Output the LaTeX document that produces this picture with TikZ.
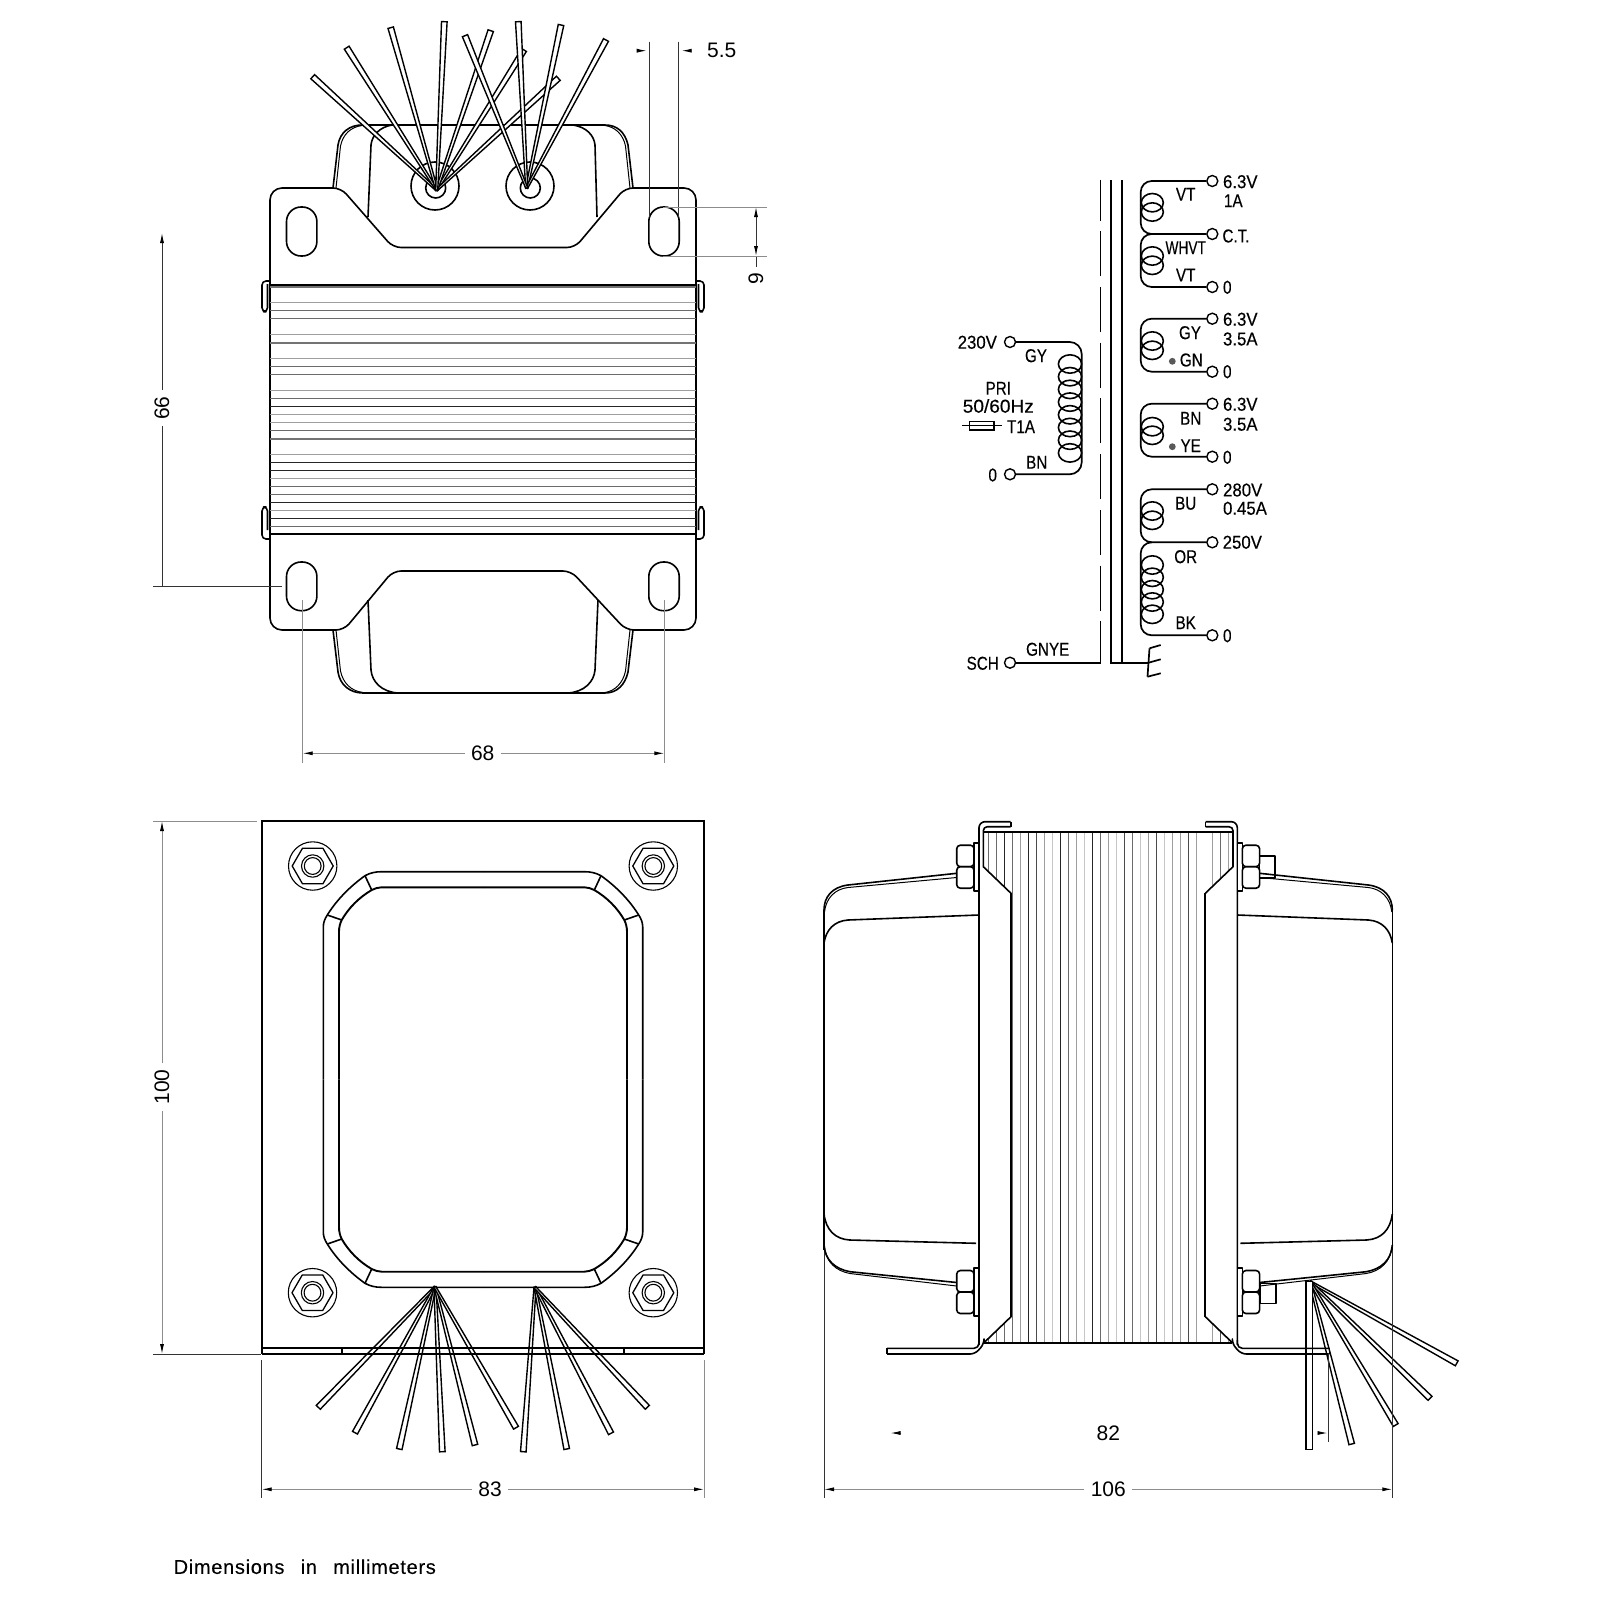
\documentclass[tikz,border=0pt]{standalone}
\usepackage{fontspec}
\setmainfont{Liberation Sans}
\newfontfamily\schfont[FakeStretch=0.82,FakeBold=0.25]{Liberation Sans}
\newfontfamily\notefont[LetterSpace=3.5,WordSpace=2.6,FakeBold=0.2]{Liberation Sans}
\usetikzlibrary{calc,arrows.meta}
\tikzset{
  tipa/.tip={Latex[length=5pt,width=2pt,fill=black,color=black]},
  partl/.style={black,line width=0.8pt,line join=round},
  heavy/.style={black,line width=1.1pt},
  fine/.style={black,line width=0.5pt},
  wirel/.style={draw=black,fill=white,line width=0.7pt,line join=miter},
  dimln/.style={black!45,line width=0.45pt},
  dimdk/.style={black!80,line width=0.45pt},
  dimtxt/.style={font=\fontsize{10.5}{12}\selectfont,inner sep=3pt},
  lbl/.style={font=\schfont\fontsize{9.3}{10}\selectfont,inner sep=0pt},
  numl/.style={lbl,xscale=1.1},
  term/.style={circle,draw=black,fill=white,line width=0.7pt,inner sep=0pt,minimum size=5.5pt},
  schl/.style={black,line width=0.85pt},
  coil/.style={black,line width=0.8pt},
  core/.style={black,line width=1pt},
  coredash/.style={black,line width=0.6pt,dash pattern=on 22.5pt off 5.35pt,dash phase=2.2pt},
  lamv/.style={black!22,line width=0.4pt},
  laml/.style={black!38,line width=0.45pt},
  lamm/.style={black!58,line width=0.5pt},
  lamd/.style={black!85,line width=0.5pt},
  lamD/.style={black!70,line width=0.75pt},
  lamG/.style={black!55,line width=1pt},
}
\newcommand\wirex[2]{\filldraw[wirel] ($(#1)!0.5pt!90:(#2)$) -- ($(#2)!1.4pt!-90:(#1)$) -- ($(#2)!1.4pt!90:(#1)$) -- ($(#1)!0.5pt!-90:(#2)$) -- cycle;}
\newcommand\tslot[3]{\draw[partl,rounded corners=7.3pt] (#1-15.2,#2) rectangle (#1+15.2,#3);}
\newcommand\nutset[1]{%
  \begin{scope}[shift={(0,#1)}]
    \filldraw[partl,fill=white] (974,-24) rectangle (979,24);
    \filldraw[partl,fill=white,rounded corners=1.8pt] (956.7,-21.5) rectangle (974,0);
    \filldraw[partl,fill=white,rounded corners=1.8pt] (956.7,0) rectangle (974,21.5);
  \end{scope}}
\newcommand\sidehalf{%
  \draw[partl] (956.7,873.3) -- (848,885) .. controls (832,887) and (824,897) .. (824,910);
  \draw[fine] (956.7,877.5) -- (848,887.5) .. controls (835,889) and (826,898) .. (824.5,912);
  \draw[partl] (979,915) -- (848,920) .. controls (834,921) and (826,930) .. (824,943);
  \draw[partl] (824,910) -- (824,1250);
  \draw[dimdk] (824,1250) -- (824,1498);
  \draw[partl] (956.7,1282.5) -- (850,1271.7) .. controls (835,1269) and (825,1260) .. (824,1245);
  \draw[fine] (956.7,1286) -- (850,1273.5) .. controls (836,1271) and (826,1262) .. (824.5,1247);
  \draw[partl] (976,1243.3) -- (849.6,1240) .. controls (835,1239) and (826,1230) .. (824,1214);
  \draw[partl] (887,1348.3) -- (887,1354);
  \draw[partl,rounded corners=2.5pt] (979,1340) -- (979,1348.3) -- (887,1348.3);
  \draw[partl,rounded corners=2.5pt] (887,1354) -- (975,1354) -- (984,1344) -- (984,1342.7);
  \draw[partl,rounded corners=3pt] (979,1345) -- (979,821.7) -- (1010.7,821.7);
  \draw[partl] (1010.7,821.7) -- (1010.7,826.7);
  \draw[partl,rounded corners=2pt] (1010.7,826.7) -- (983.3,826.7) -- (983.3,840);
  \draw[partl] (983.3,840) -- (983.3,866.7) -- (1011,893.3);
  \draw[heavy] (1011,893.3) -- (1011,1316.7);
  \draw[partl] (1011,1316.7) -- (984,1342.7);
  \nutset{866.7}
  \nutset{1292}
}
\begin{document}
\begin{tikzpicture}[x=0.5pt,y=-0.5pt]
\useasboundingbox (0,0) rectangle (1600,1600);
\fill[white] (0,0) rectangle (1600,1600);

% ===== TOP VIEW =====
% bell, top
\draw[partl] (333,188) -- (338,145) .. controls (340,132) and (350,125) .. (362,125) -- (605,125) .. controls (617,125) and (625,132) .. (628,145) -- (633,188);
\draw[fine] (336,188) -- (340.5,146) .. controls (343,134) and (351,127) .. (362,125.5);
\draw[fine] (630,188) -- (625.5,146) .. controls (623,134) and (615,127) .. (605,125.5);
\draw[partl] (368,217) -- (371,145) .. controls (372,135) and (380,127) .. (392,125);
\draw[partl] (597,217) -- (595,145) .. controls (594,135) and (586,127) .. (573,125);
% bell, bottom
\draw[partl] (333,630) -- (338,672) .. controls (340,685) and (350,693) .. (363,693) -- (605,693) .. controls (617,693) and (625,685) .. (628,672) -- (633,630);
\draw[fine] (336,630) -- (340.5,671) .. controls (343,683) and (351,691) .. (363,692.5);
\draw[fine] (630,630) -- (625.5,671) .. controls (623,683) and (615,691) .. (605,692.5);
\draw[partl] (368,600) -- (371,670) .. controls (372,682) and (382,692) .. (398,693);
\draw[partl] (598,600) -- (595,670) .. controls (594,682) and (584,692) .. (568,693);
% plate
\draw[partl] (270,285) [rounded corners=6pt] -- (270,188) [rounded corners=4pt] -- (341,188) -- (393,247.5) -- (575,247.5) -- (625,188) [rounded corners=6pt] -- (696,188) [sharp corners] -- (696,285);
\draw[partl] (270,534) [rounded corners=6pt] -- (270,630) [rounded corners=4pt] -- (344,630) -- (393,571) -- (571,571) -- (626,630) [rounded corners=6pt] -- (696,630) [sharp corners] -- (696,534);
\draw[partl] (270,285) -- (270,534);
\draw[partl] (696,285) -- (696,534);
\tslot{301.7}{207}{256}
\tslot{664}{207}{256}
\tslot{301.7}{562}{610.7}
\tslot{664}{562}{610.7}
% side clips
\draw[partl,rounded corners=2pt] (270,281) -- (262,281) -- (262,311.7) -- (267.5,311.7) -- (267.5,284);
\draw[partl,rounded corners=2pt] (267.5,530) -- (267.5,507) -- (262,507) -- (262,539) -- (270,539);
\draw[partl,rounded corners=2pt] (696,281) -- (704,281) -- (704,311.7) -- (698.5,311.7) -- (698.5,284);
\draw[partl,rounded corners=2pt] (698.5,530) -- (698.5,507) -- (704,507) -- (704,539) -- (696,539);
% laminations, horizontal
\foreach \y/\s in {302/laml,310/lamm,318.3/lamm,334/laml,342.7/lamG,358.3/laml,366.3/lamm,374.3/lamm,390.3/laml,398.3/lamm,406.3/lamd,414.3/laml,422.3/laml,430.3/lamm,438.7/lamG,454.3/laml,462.3/lamd,470.3/lamd,478.3/laml,486.3/lamm,494.3/lamm,502.3/lamd,510.3/laml,518.3/lamd,526.3/lamm}
  \draw[\s] (270,\y) -- (696,\y);
\draw[lamG,line width=1.3pt] (270,287) -- (696,287);
\draw[heavy,line width=0.7pt] (270,285) -- (696,285);
\draw[heavy,line width=0.7pt] (270,534) -- (696,534);
% holes
\draw[partl] (435,186) circle[radius=12pt];
\draw[partl] (530,186) circle[radius=12pt];
\draw[partl] (435.7,188) circle[radius=5pt];
\draw[partl] (530.3,188) circle[radius=5pt];
% wires, top
\wirex{436.7,190}{524,50}
\wirex{436.7,190}{558.3,78.3}
\wirex{436.7,190}{312.7,76.7}
\wirex{436.7,190}{346.7,47.7}
\wirex{436.7,190}{390.7,27.7}
\wirex{436.7,190}{490.7,30.7}
\wirex{436.7,190}{444.3,21.7}
\wirex{526.7,188}{561,25}
\wirex{526.7,188}{606,40}
\wirex{526.7,188}{518.3,21.7}
\wirex{526.7,188}{465,35.7}
% dimension 5.5
\coordinate (a55) at (646.7,50.7);
\coordinate (b55) at (681.7,50.7);
\coordinate (a55s) at (639,50.7);
\node[dimtxt] (d55) at (721.7,50.5) {5.5};
\coordinate (b55s) at (689.3,50.7);
\draw[dimdk,-tipa] (a55s) -- (a55);
\draw[dimdk,-tipa] (b55s) -- (b55);
\draw[dimdk] (649.3,41.7) -- (649.3,217);
\draw[dimdk] (678.3,41.7) -- (678.3,217);
% dimension 9
\node[dimtxt,rotate=90] (d9) at (756,279) {9};
\coordinate (a9) at (756,207);
\coordinate (b9) at (756,256);
\draw[dimdk,{tipa}-{tipa}] (a9) -- (b9);
\draw[dimdk] (b9) -- (d9);
\draw[dimln] (663,207) -- (767,207);
\draw[dimln] (663,256) -- (767,256);
% dimension 66
\node[dimtxt,rotate=90] (d66) at (162,408) {66};
\coordinate (a66) at (162,233);
\coordinate (b66) at (162,586);
\draw[dimdk,-tipa] (d66) -- (a66);
\draw[dimdk] (d66) -- (b66);
\draw[dimdk] (153,586) -- (282,586);
% dimension 68
\node[dimtxt] (d68) at (482.7,753.3) {68};
\coordinate (a68) at (302.7,753.3);
\coordinate (b68) at (664.3,753.3);
\draw[dimln,-tipa] (d68) -- (a68);
\draw[dimln,-tipa] (d68) -- (b68);
\draw[dimln] (302.7,600) -- (302.7,762.7);
\draw[dimln] (664.3,600) -- (664.3,762.7);

% ===== SCHEMATIC =====
\draw[coredash] (1100.7,180) -- (1100.7,662.7);
\coordinate (g1) at (1148,662.7);
\draw[core] (1111.3,180) -- (1111.3,662.7) -- (g1);
\draw[core] (1122,180) -- (1122,662.7);
\draw[schl] (1149.5,648.3) -- (1147.5,676.7);
\draw[schl] (1149.5,648.3) -- (1160.7,645);
\draw[schl] (1148.5,662.7) -- (1160.7,659.3);
\draw[schl] (1147.5,676.7) -- (1160.7,673.3);

\node[term] (t1) at (1212.3,181) {};
\node[term] (t2) at (1212.3,234) {};
\node[term] (t3) at (1212.3,287) {};
\node[term] (t4) at (1212.3,318.7) {};
\node[term] (t5) at (1212.3,371.7) {};
\node[term] (t6) at (1212.3,403.7) {};
\node[term] (t7) at (1212.3,456.7) {};
\node[term] (t8) at (1212.3,489.3) {};
\node[term] (t9) at (1212.3,542.3) {};
\node[term] (t10) at (1212.3,635.3) {};
\node[term] (p1) at (1010,342) {};
\node[term] (p2) at (1010,474.3) {};
\node[term] (sch) at (1010,662.7) {};
\coordinate (jt) at (1140.7,234);
\coordinate (jb) at (1140.7,542.3);
\draw[schl,rounded corners=5.5pt] (t1) -- (1140.7,181) -- (jt) -- (t2);
\draw[schl,rounded corners=5.5pt] (1150,234) -- (jt) -- (1140.7,287) -- (t3);
\draw[schl,rounded corners=5.5pt] (t4) -- (1140.7,318.7) -- (1140.7,371.7) -- (t5);
\draw[schl,rounded corners=5.5pt] (t6) -- (1140.7,403.7) -- (1140.7,456.7) -- (t7);
\draw[schl,rounded corners=5.5pt] (t8) -- (1140.7,489.3) -- (jb) -- (t9);
\draw[schl,rounded corners=5.5pt] (1150,542.3) -- (jb) -- (1140.7,635.3) -- (t10);
\draw[schl,rounded corners=6pt] (p1) -- (1081.7,342) -- (1081.7,474.3) -- (p2);
\draw[schl] (sch) -- (1100.7,662.7);
\foreach \y in {202.7,212,256,265.3,341,350.3,426.7,435.3,511,520.3,565,577.3,589.7,602,614.3}
  \draw[coil] (1152.3,\y) ellipse[x radius=5.5pt,y radius=4.6pt];
\foreach \y in {364,376.7,389.4,402.1,414.8,427.5,440.2,452.9}
  \draw[coil] (1070,\y) ellipse[x radius=5.8pt,y radius=4.6pt];
\fill[black!65] (1172.3,361.3) circle[radius=1.7pt];
\fill[black!65] (1172.3,446.7) circle[radius=1.7pt];
% fuse
\coordinate (f1) at (962.3,425.7);
\coordinate (f2) at (1001.7,425.7);
\draw[schl,line width=0.6pt] (f1) -- (f2);
\draw[schl,line width=0.6pt] (969.3,421.7) rectangle (994,430);
% labels
\node[numl] (l1) at (977.3,342.3) {230V};
\node[lbl] (l2) at (1036,355.7) {GY};
\node[lbl] (l3) at (998.3,388.3) {PRI};
\node[lbl,xscale=1.25] (l4) at (998.3,406) {50/60Hz};
\node[lbl] (l5) at (1021,426.7) {T1A};
\node[lbl] (l6) at (1036.7,462.3) {BN};
\node[lbl] (l7) at (992.7,475) {0};
\node[lbl] (l8) at (1185.7,194.3) {VT};
\node[numl] (l9) at (1240.3,181.7) {6.3V};
\node[lbl] (l10) at (1233.3,200.7) {1A};
\node[lbl] (l11) at (1236,236) {C.T.};
\node[lbl,xscale=0.9] (l12) at (1185.7,247.7) {WHVT};
\node[lbl] (l13) at (1185.7,275) {VT};
\node[lbl] (l14) at (1227.3,287.3) {0};
\node[numl] (l15) at (1240.3,319.3) {6.3V};
\node[numl] (l16) at (1240.3,339) {3.5A};
\node[lbl] (l17) at (1190,332.7) {GY};
\node[lbl] (l18) at (1191.3,360) {GN};
\node[lbl] (l19) at (1227.3,371.7) {0};
\node[numl] (l20) at (1240.3,404.3) {6.3V};
\node[numl] (l21) at (1240.3,424.3) {3.5A};
\node[lbl] (l22) at (1190.7,418.3) {BN};
\node[lbl] (l23) at (1190.7,445.7) {YE};
\node[lbl] (l24) at (1227.3,457.3) {0};
\node[numl] (l25) at (1242.7,490) {280V};
\node[numl] (l26) at (1245,508.3) {0.45A};
\node[lbl] (l27) at (1185.7,503.3) {BU};
\node[numl] (l28) at (1242.3,542.3) {250V};
\node[lbl] (l29) at (1185.7,556.7) {OR};
\node[lbl] (l30) at (1185.7,622.7) {BK};
\node[lbl] (l31) at (1227.3,635.7) {0};
\node[lbl] (l32) at (1047.7,649.3) {GNYE};
\node[lbl] (l33) at (982.7,663.3) {SCH};

% ===== BOTTOM-LEFT VIEW =====
\draw[heavy] (261.7,1348.3) -- (261.7,821) -- (704,821) -- (704,1348.3);
% window frame
\foreach \sx/\sy in {1/1,-1/1,1/-1,-1/-1}{
  \begin{scope}[shift={(483,1079.5)},xscale=\sx,yscale=\sy]
    \draw[partl] (-159.7,0) -- (-159.7,-152.8) .. controls (-159.7,-157) and (-158,-161) .. (-155.7,-164.5) .. controls (-146,-180) and (-133,-193) .. (-118,-203.8) .. controls (-113,-206.5) and (-108,-207.8) .. (-101.3,-207.8) -- (0,-207.8);
    \draw[partl,line width=0.95pt] (-144,0) -- (-144,-147.8) .. controls (-144,-152) and (-143,-156) .. (-141.3,-159.5) .. controls (-134,-172) and (-124,-182) .. (-111.3,-189.5) .. controls (-108,-191) and (-105,-192.2) .. (-101.3,-192.2) -- (0,-192.2);
    \draw[partl] (-155.7,-164.5) -- (-141.3,-159.5);
    \draw[partl] (-118,-203.8) -- (-111.3,-189.5);
  \end{scope}}
% bolts
\foreach \cx/\cy in {312.7/866,653.3/866,312.5/1292.7,653.3/1292.7}{
  \begin{scope}[shift={(\cx,\cy)}]
    \draw[partl,line width=0.55pt] (0,0) circle[radius=12.1pt];
    \draw[partl,line width=0.65pt] (-20.5,0) -- (-10.2,-17.8) -- (10.2,-17.8) -- (20.5,0) -- (10.2,17.8) -- (-10.2,17.8) -- cycle;
    \draw[partl,line width=0.55pt] (0,0) circle[radius=5.6pt];
    \draw[partl,line width=0.55pt] (0,0) circle[radius=4.2pt];
  \end{scope}}
% wires
\wirex{435,1287}{318.3,1407.3}
\wirex{435,1287}{355,1432.7}
\wirex{435,1287}{399.3,1449}
\wirex{435,1287}{442.3,1451.7}
\wirex{435,1287}{475,1445}
\wirex{435,1287}{516,1427.7}
\wirex{535,1287.3}{523.3,1451.7}
\wirex{535,1287.3}{566.7,1449}
\wirex{535,1287.3}{611,1433.3}
\wirex{535,1287.3}{647.3,1407.3}
% strip
\draw[heavy,line width=0.85pt] (261.7,1348.3) -- (704,1348.3);
\draw[heavy,line width=0.85pt] (261.7,1354) -- (704,1354);
\draw[partl] (261.7,1348.3) -- (261.7,1354);
\draw[partl] (704,1348.3) -- (704,1354);
\draw[partl] (341.7,1348.3) -- (341.7,1354);
\draw[partl] (624,1348.3) -- (624,1354);
% dimension 83
\node[dimtxt] (d83) at (490,1489.3) {83};
\coordinate (a83) at (261.7,1489.3);
\coordinate (b83) at (704,1489.3);
\draw[dimln,-tipa] (d83) -- (a83);
\draw[dimln,-tipa] (d83) -- (b83);
\draw[dimdk] (261.7,1360) -- (261.7,1498);
\draw[dimln] (704,1360) -- (704,1498);
% dimension 100
\node[dimtxt,rotate=90] (d100) at (162,1087) {100};
\coordinate (a100) at (162,821);
\coordinate (b100) at (162,1354);
\draw[dimln,-tipa] (d100) -- (a100);
\draw[dimln,-tipa] (d100) -- (b100);
\draw[dimln] (153,821) -- (257,821);
\draw[dimdk] (153,1354) -- (261,1354);

% ===== RIGHT VIEW =====
\foreach \x/\s in {1012.3/lamm,1020.3/laml,1028.3/lamd,1036.3/lamD,1044.3/laml,1052.3/lamv,1060.3/lamd,1068.3/lamm,1076.3/laml,1084.3/lamv,1092.3/lamd,1100.3/lamm,1108.3/laml,1116.3/lamv,1124.3/lamD,1132.3/lamm,1140.3/lamv,1148.3/laml,1156.3/lamD,1164.3/lamv,1172.3/laml,1180.3/laml,1188.3/lamD,1196.3/laml}
  \draw[\s] (\x,831.7) -- (\x,1342.7);
\draw[lamm] (988.3,831.7) -- (988.3,871.4);
\draw[lamm] (996.3,831.7) -- (996.3,878.9);
\draw[lamd] (1004.3,831.7) -- (1004.3,886.4);
\draw[laml] (1212.3,831.7) -- (1212.3,886.4);
\draw[lamm] (1220.3,831.7) -- (1220.3,878.9);
\draw[laml] (1228.3,831.7) -- (1228.3,871.4);
\draw[lamm] (988.3,1338.6) -- (988.3,1342.7);
\draw[lamm] (996.3,1330.9) -- (996.3,1342.7);
\draw[lamm] (1004.3,1323.2) -- (1004.3,1342.7);
\draw[laml] (1212.3,1323.2) -- (1212.3,1342.7);
\draw[lamD] (1220.3,1330.9) -- (1220.3,1342.7);
\draw[laml] (1228.3,1338.6) -- (1228.3,1342.7);
\draw[heavy] (983.3,831.7) -- (1233,831.7);
\draw[heavy] (984,1342.7) -- (1232.3,1342.7);
% wires, right view
\wirex{1310,1281.7}{1456.7,1363.3}
\wirex{1310,1281.7}{1430,1398.3}
\wirex{1310,1281.7}{1395.7,1425}
\wirex{1310,1281.7}{1351.7,1444}
\filldraw[wirel] (1306,1281.7) rectangle (1312.3,1449.3);
% body halves
\sidehalf
\begin{scope}[xscale=-1,xshift=-1108.15pt]
\sidehalf
\end{scope}
\draw[partl] (1260,1283.3) rectangle (1275.7,1303.3);
\draw[partl] (1259.5,856) rectangle (1275,878);
% dimension 82
\node[dimtxt] (d82) at (1108.3,1433) {82};
\coordinate (a82) at (899.6,1433);
\coordinate (a82t) at (890.5,1433);
\coordinate (b82) at (1317.5,1433);
\coordinate (b82t) at (1327.5,1433);
\draw[dimln,-tipa] (a82) -- (a82t);
\draw[dimln,-tipa] (b82) -- (b82t);
\draw[dimdk] (1328.3,1353) -- (1328.3,1442);
% dimension 106
\node[dimtxt] (d106) at (1108.3,1489.3) {106};
\coordinate (a106) at (824,1489.3);
\coordinate (b106) at (1392.3,1489.3);
\draw[dimln,-tipa] (d106) -- (a106);
\draw[dimln,-tipa] (d106) -- (b106);

% note
\node[anchor=west,inner sep=0pt,font=\notefont\fontsize{10}{12}\selectfont] (note) at (173.3,1566.7) {Dimensions in millimeters};
\end{tikzpicture}
\end{document}
